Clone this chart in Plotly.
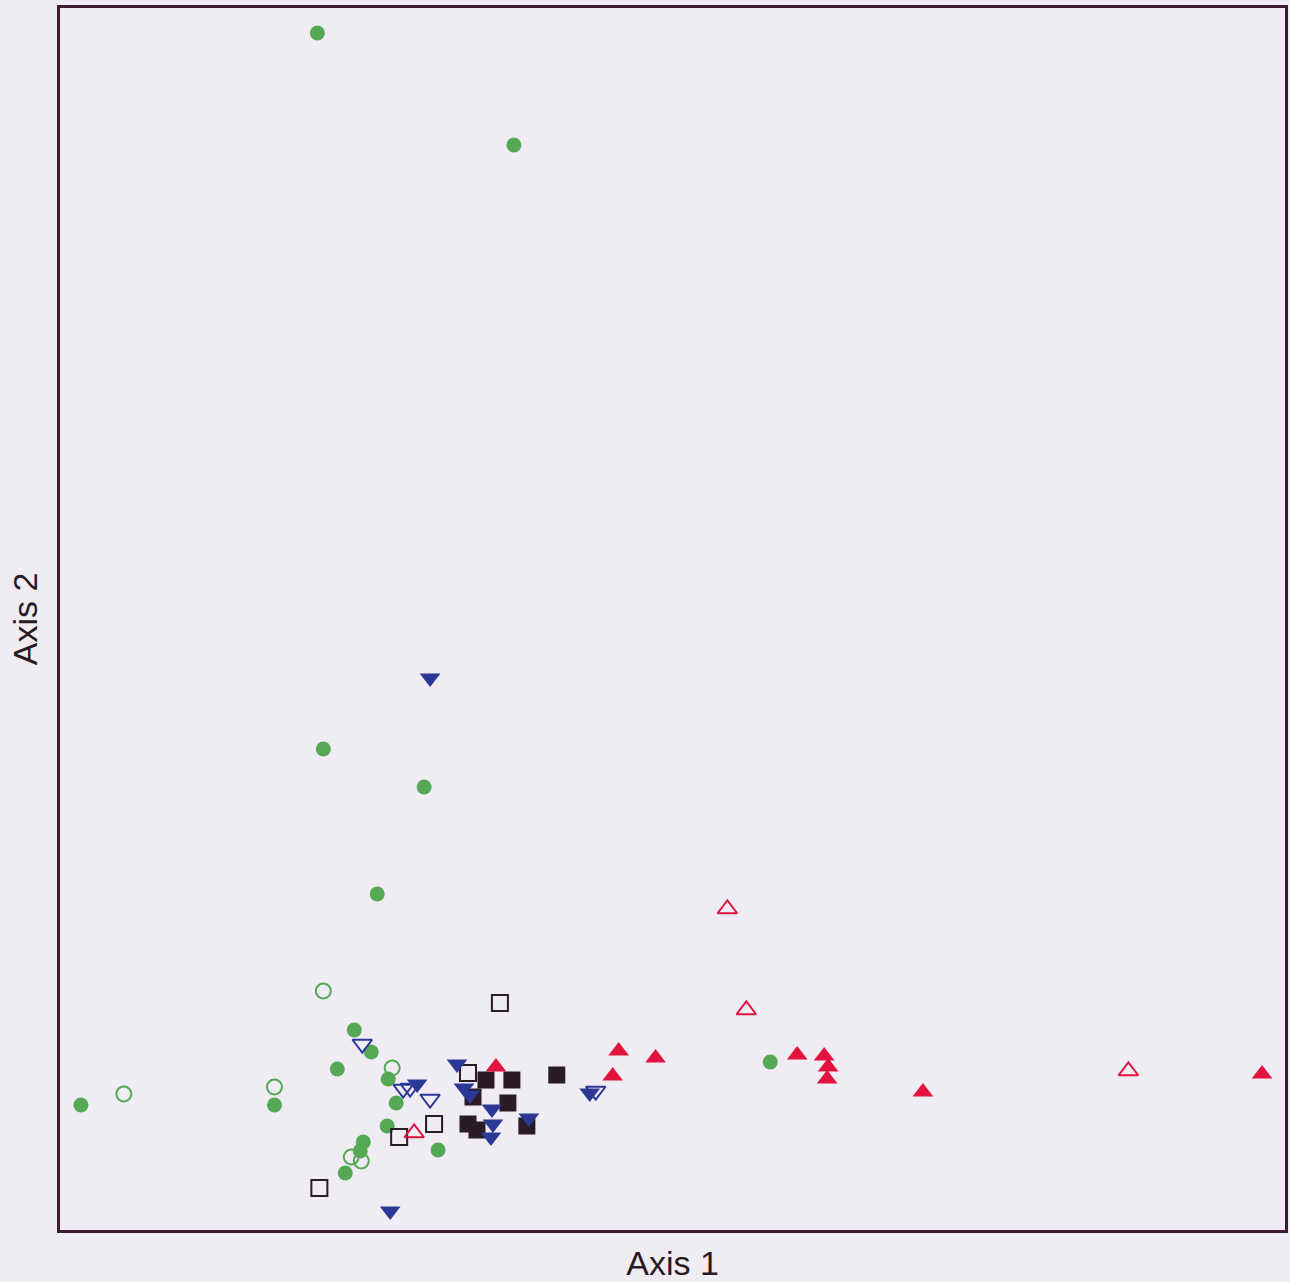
import plotly.graph_objects as go

# Ordination scores (Axis 1, Axis 2) per group
green_filled_x = [2.58, 4.55, 2.64, 3.65, 3.18, 2.95, 3.12, 2.78, 3.29, 3.37, 3.28, 3.04, 3.01, 2.86, 3.79, 0.21, 2.15, 7.12]
green_filled_y = [11.97, 10.85, 4.81, 4.43, 3.36, 2.00, 1.78, 1.61, 1.51, 1.27, 1.04, 0.88, 0.79, 0.57, 0.80, 1.25, 1.25, 1.68]

green_open_x = [2.64, 0.64, 2.15, 3.33, 2.92, 3.02]
green_open_y = [2.39, 1.36, 1.43, 1.62, 0.73, 0.69]

blue_filled_x = [3.71, 3.31, 3.58, 3.98, 4.05, 4.11, 4.33, 4.34, 4.32, 4.70, 5.31]
blue_filled_y = [5.52, 0.19, 1.46, 1.66, 1.42, 1.35, 1.21, 1.06, 0.93, 1.12, 1.37]

blue_open_x = [3.03, 3.44, 3.51, 3.71, 5.37]
blue_open_y = [1.86, 1.41, 1.42, 1.31, 1.39]

black_filled_x = [4.27, 4.53, 4.98, 4.14, 4.49, 4.09, 4.18, 4.68]
black_filled_y = [1.50, 1.50, 1.55, 1.33, 1.27, 1.06, 1.00, 1.04]

black_open_x = [4.41, 4.09, 3.75, 3.40, 2.60]
black_open_y = [2.27, 1.57, 1.06, 0.93, 0.42]

red_filled_x = [4.37, 5.60, 5.97, 5.54, 7.39, 7.66, 7.70, 7.69, 8.65, 12.05]
red_filled_y = [1.63, 1.79, 1.72, 1.54, 1.75, 1.74, 1.63, 1.51, 1.38, 1.56]

red_open_x = [6.69, 6.88, 10.71, 3.55]
red_open_y = [3.21, 2.20, 1.59, 0.97]

GREEN = "#55a955"
BLUE = "#2c3896"
BLACK = "#2a1b24"
RED = "#e0143e"
BG = "#efecf4"

fig = go.Figure()

def add(x, y, symbol, color, size, filled):
    if filled:
        marker = dict(symbol=symbol, size=size, color=color, line=dict(width=0))
    else:
        marker = dict(symbol=symbol + "-open", size=size, color=color, line=dict(width=2, color=color))
    fig.add_trace(go.Scatter(x=x, y=y, mode="markers", marker=marker, showlegend=False, hoverinfo="skip"))

add(green_filled_x, green_filled_y, "circle", GREEN, 15, True)
add(green_open_x, green_open_y, "circle", GREEN, 15, False)
add(black_filled_x, black_filled_y, "square", BLACK, 17, True)
add(black_open_x, black_open_y, "square", BLACK, 16, False)
add(blue_filled_x, blue_filled_y, "triangle-down", BLUE, 18, True)
add(blue_open_x, blue_open_y, "triangle-down", BLUE, 17, False)
add(red_filled_x, red_filled_y, "triangle-up", RED, 18, True)
add(red_open_x, red_open_y, "triangle-up", RED, 17, False)

axis_common = dict(
    showgrid=False, zeroline=False, showticklabels=False, ticks="",
    showline=True, mirror=True, linecolor="#3b1c30", linewidth=3,
)

fig.update_layout(
    width=1290, height=1282,
    margin=dict(l=60, r=2, t=8, b=52),
    paper_bgcolor=BG, plot_bgcolor=BG,
    font=dict(family="Liberation Sans, Arial, sans-serif", color="#2a1a22"),
    xaxis=dict(range=[0, 12.28], title=dict(text="Axis 1", font=dict(size=34), standoff=20), **axis_common),
    yaxis=dict(range=[0, 12.22], title=dict(text="Axis 2", font=dict(size=34), standoff=10), **axis_common),
)

fig.write_html(
    "out.html",
    config={"displayModeBar": False},
    post_script="document.body.style.margin='0';document.body.style.background='%s';" % BG,
)
